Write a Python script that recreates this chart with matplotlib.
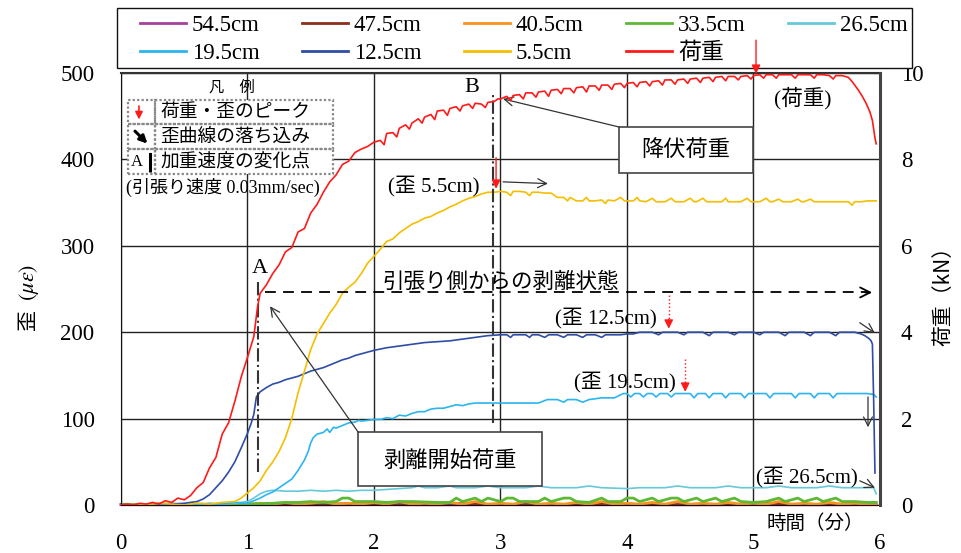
import matplotlib
matplotlib.use("Agg")
import matplotlib.pyplot as plt
from matplotlib.patches import Rectangle, FancyArrowPatch

SERIF = ['Liberation Serif', 'Noto Sans CJK JP', 'DejaVu Sans']
CJK = ['Noto Sans CJK JP', 'DejaVu Sans']
plt.rcParams['font.family'] = SERIF
plt.rcParams['mathtext.fontset'] = 'stix'

# ---------------- data ----------------
# load (kN), right axis
load_t = [0.00, 0.05, 0.10, 0.15, 0.20, 0.25, 0.30, 0.35, 0.40, 0.45, 0.50, 0.55, 0.60, 0.65, 0.70,
          0.75, 0.80, 0.85, 0.90, 0.95, 1.00, 1.05, 1.08, 1.10, 1.15, 1.20, 1.25, 1.30, 1.35, 1.40,
          1.45, 1.50, 1.55, 1.60, 1.65, 1.70, 1.75, 1.80, 1.85, 1.90, 1.95,
          2.00, 2.05, 2.08, 2.10, 2.15, 2.18, 2.20, 2.25, 2.28, 2.30, 2.35, 2.38, 2.40, 2.45, 2.48,
          2.50, 2.55, 2.58, 2.60, 2.65, 2.68, 2.70, 2.75, 2.78, 2.80, 2.85, 2.88, 2.90, 2.95, 2.98,
          3.00, 3.05, 3.08, 3.10, 3.15, 3.18, 3.20, 3.25, 3.28, 3.30, 3.35, 3.38, 3.40, 3.45, 3.48,
          3.50, 3.55, 3.58, 3.60, 3.65, 3.68, 3.70, 3.75, 3.78, 3.80, 3.85, 3.88, 3.90, 3.95, 3.98,
          4.00, 4.05, 4.08, 4.10, 4.15, 4.18, 4.20, 4.25, 4.28, 4.30, 4.35, 4.38, 4.40, 4.45, 4.48,
          4.50, 4.55, 4.58, 4.60, 4.65, 4.68, 4.70, 4.75, 4.78, 4.80, 4.85, 4.88, 4.90, 4.95, 4.98,
          5.00, 5.05, 5.08, 5.10, 5.15, 5.18, 5.20, 5.25, 5.30, 5.33, 5.35, 5.40, 5.45, 5.48, 5.50,
          5.55, 5.60, 5.63, 5.65, 5.70, 5.75, 5.78, 5.80, 5.83, 5.86, 5.89, 5.92, 5.94, 5.96, 5.97]
load_kn = [0.00, 0.02, 0.00, 0.04, 0.02, 0.06, 0.02, 0.10, 0.06, 0.16, 0.12, 0.22, 0.40, 0.52, 0.86,
           1.10, 1.64, 1.90, 2.40, 2.96, 3.42, 3.90, 4.60, 4.90, 5.10, 5.36, 5.56, 5.86, 5.96, 6.32,
           6.40, 6.76, 6.96, 7.24, 7.48, 7.64, 7.88, 7.96, 8.16, 8.24, 8.30,
           8.40, 8.44, 8.34, 8.60, 8.62, 8.52, 8.72, 8.80, 8.70, 8.84, 8.94, 8.84, 8.98, 9.04, 8.92,
           9.12, 9.14, 9.02, 9.18, 9.22, 9.12, 9.24, 9.28, 9.18, 9.30, 9.28, 9.20, 9.32, 9.34, 9.40,
           9.40, 9.46, 9.36, 9.48, 9.50, 9.40, 9.54, 9.54, 9.44, 9.56, 9.58, 9.46, 9.60, 9.62, 9.52,
           9.64, 9.64, 9.54, 9.66, 9.68, 9.56, 9.70, 9.70, 9.60, 9.72, 9.72, 9.62, 9.74, 9.76, 9.66,
           9.76, 9.78, 9.68, 9.78, 9.80, 9.70, 9.80, 9.82, 9.72, 9.84, 9.84, 9.74, 9.84, 9.86, 9.76,
           9.86, 9.88, 9.78, 9.88, 9.90, 9.80, 9.90, 9.92, 9.82, 9.92, 9.92, 9.84, 9.92, 9.94, 9.86,
           9.94, 9.96, 9.88, 9.96, 9.96, 9.88, 9.96, 9.96, 9.96, 9.88, 9.96, 9.96, 9.96, 9.88, 9.96,
           9.96, 9.94, 9.86, 9.94, 9.94, 9.90, 9.80, 9.72, 9.60, 9.46, 9.30, 9.10, 8.90, 8.50, 8.36]

# strain (micro-strain), left axis
s55_t = [0.0, 0.1, 0.2, 0.3, 0.4, 0.5, 0.6, 0.7, 0.8, 0.9, 0.95, 1.00, 1.05, 1.10, 1.15, 1.20, 1.25,
         1.30, 1.35, 1.40, 1.45, 1.50, 1.55, 1.60, 1.65, 1.70, 1.75, 1.80, 1.85, 1.90, 1.95, 2.00,
         2.05, 2.10, 2.15, 2.20, 2.25, 2.30, 2.35, 2.40, 2.45, 2.50, 2.55, 2.60, 2.65, 2.70, 2.75,
         2.80, 2.85, 2.90, 2.95,
         3.00, 3.05, 3.08, 3.10, 3.15, 3.20, 3.23, 3.25, 3.30, 3.35, 3.40, 3.45, 3.50, 3.53, 3.55,
         3.60, 3.65, 3.68, 3.70, 3.75, 3.80, 3.83, 3.85, 3.90, 3.95, 3.98, 4.00, 4.05, 4.08, 4.10,
         4.15, 4.20, 4.23, 4.25, 4.30, 4.35, 4.38, 4.40, 4.45, 4.50, 4.53, 4.55, 4.60, 4.63, 4.65,
         4.70, 4.75, 4.78, 4.80, 4.85, 4.90, 4.95, 4.98, 5.00, 5.05, 5.10, 5.13, 5.15, 5.20, 5.23,
         5.25, 5.30, 5.35, 5.38, 5.40, 5.45, 5.48, 5.50, 5.55, 5.60, 5.65, 5.70, 5.75, 5.78, 5.80,
         5.85, 5.90, 5.95, 5.97]
s55 = [0, 1, 0, 2, 1, 0, 2, 1, 3, 4, 8, 14, 20, 28, 40, 50, 62,
       78, 100, 130, 155, 180, 198, 210, 222, 232, 245, 252, 258, 268, 280, 288,
       296, 305, 308, 315, 320, 325, 328, 332, 334, 338, 341, 345, 348, 352, 355,
       357, 360, 362, 362,
       363, 362, 358, 363, 363, 362, 358, 362, 362, 361, 361, 356, 356, 352, 356,
       352, 352, 356, 352, 352, 353, 349, 353, 352, 356, 352, 352, 352, 356, 352,
       351, 355, 351, 351, 351, 355, 351, 351, 351, 355, 351, 351, 355, 351, 351,
       351, 351, 355, 351, 351, 351, 355, 351, 351, 351, 355, 351, 351, 354, 351,
       351, 351, 354, 351, 351, 354, 351, 351, 351, 351, 351, 351, 351, 347, 351,
       351, 352, 352, 352]

s125_t = [0.0, 0.1, 0.2, 0.3, 0.4, 0.5, 0.55, 0.6, 0.65, 0.7, 0.75, 0.8, 0.85, 0.9, 0.95, 1.0,
          1.03, 1.05, 1.07, 1.10, 1.15, 1.20, 1.25, 1.30, 1.35, 1.40, 1.45, 1.50, 1.55, 1.60, 1.65,
          1.70, 1.75, 1.80, 1.85, 1.90, 1.95, 2.00, 2.10, 2.20, 2.30, 2.40, 2.50, 2.60, 2.70, 2.80,
          2.90, 3.00, 3.05, 3.08, 3.10, 3.20, 3.23, 3.25, 3.30, 3.35, 3.38, 3.45, 3.50, 3.53, 3.60,
          3.65, 3.68, 3.75, 3.80, 3.83, 3.95, 4.00, 4.05, 4.10, 4.20, 4.25, 4.28, 4.40, 4.45, 4.48,
          4.60, 4.65, 4.68, 4.80, 4.85, 4.88, 5.00, 5.05, 5.08, 5.20, 5.25, 5.28, 5.40, 5.45, 5.48,
          5.60, 5.65, 5.68, 5.80, 5.85, 5.88, 5.91, 5.93, 5.94, 5.95, 5.96]
s125 = [0, 1, 0, 2, 1, 2, 3, 4, 7, 12, 20, 28, 38, 50, 66, 83,
        95, 105, 125, 131, 136, 140, 142, 145, 147, 149, 152, 155, 157, 159, 162,
        165, 168, 170, 173, 175, 177, 179, 182, 184, 186, 188, 189, 190, 192, 194,
        196, 197, 197, 194, 197, 197, 194, 197, 197, 194, 197, 197, 194, 197, 197,
        194, 197, 197, 194, 197, 197, 198, 198, 200, 200, 197, 200, 200, 197, 200,
        200, 196, 200, 200, 197, 200, 200, 197, 200, 200, 196, 200, 200, 196, 200,
        200, 196, 200, 200, 198, 196, 193, 190, 186, 120, 37]

s195_t = [0.0, 0.1, 0.2, 0.3, 0.4, 0.5, 0.6, 0.7, 0.8, 0.9, 1.0, 1.05, 1.10, 1.15, 1.20, 1.25,
          1.30, 1.35, 1.40, 1.45, 1.48, 1.50, 1.52, 1.55, 1.60, 1.63, 1.65, 1.68, 1.70, 1.75, 1.80,
          1.85, 1.88, 1.90, 1.95, 2.00, 2.05, 2.10, 2.15, 2.20, 2.25, 2.30, 2.35, 2.40, 2.45, 2.50,
          2.55, 2.60, 2.65, 2.70, 2.75, 2.80, 2.90, 3.00, 3.10, 3.20, 3.30, 3.37, 3.45, 3.50, 3.53,
          3.60, 3.65, 3.70, 3.80, 3.90, 3.97, 4.00, 4.03, 4.06, 4.10, 4.13, 4.16, 4.20, 4.23, 4.26,
          4.32, 4.35, 4.38, 4.45, 4.50, 4.53, 4.56, 4.62, 4.65, 4.68, 4.75, 4.78, 4.81, 4.90, 4.93,
          4.96, 5.10, 5.13, 5.16, 5.30, 5.33, 5.36, 5.45, 5.48, 5.51, 5.60, 5.63, 5.66, 5.80, 5.90,
          5.95, 5.97]
s195 = [0, 1, 0, 1, 2, 1, 0, 2, 1, 3, 2, 5, 8, 12, 15, 20,
        25, 30, 40, 52, 62, 72, 78, 82, 84, 88, 84, 90, 89, 92, 95,
        96, 98, 97, 98, 99, 99, 101, 100, 104, 103, 106, 108, 108, 111, 112,
        112, 114, 116, 115, 117, 118, 118, 118, 118, 118, 118, 122, 122, 119, 122,
        122, 119, 122, 124, 124, 129, 129, 125, 129, 129, 125, 129, 129, 125, 129,
        129, 125, 129, 129, 129, 124, 129, 129, 124, 129, 129, 124, 129, 129, 124,
        129, 129, 124, 129, 129, 124, 129, 129, 124, 129, 129, 124, 129, 129, 129,
        128, 125]

s265_t = [0.0, 0.2, 0.4, 0.6, 0.8, 0.9, 1.0, 1.05, 1.10, 1.15, 1.2, 1.3, 1.4, 1.5, 1.6, 1.7, 1.8,
          1.9, 2.0, 2.1, 2.2, 2.3, 2.35, 2.4, 2.5, 2.6, 2.65, 2.8, 2.9, 3.0, 3.2, 3.3, 3.4, 3.6,
          3.7, 3.8, 4.0, 4.1, 4.3, 4.4, 4.5, 4.7, 4.8, 4.9, 5.1, 5.2, 5.3, 5.5, 5.6, 5.7, 5.9,
          5.95, 5.97]
s265 = [0, 1, 0, 2, 1, 2, 4, 8, 13, 16, 17, 16, 16, 17, 16, 17, 16,
        17, 17, 18, 19, 20, 22, 20, 20, 22, 20, 20, 22, 20, 20, 22, 20, 20,
        22, 20, 19, 20, 20, 22, 20, 20, 22, 20, 20, 22, 20, 20, 22, 20, 20,
        20, 13]

s335_t = [0.0, 0.2, 0.4, 0.6, 0.8, 1.0, 1.2, 1.3, 1.4, 1.5, 1.6, 1.7, 1.75, 1.8, 1.85, 2.0, 2.1,
          2.2, 2.3, 2.5, 2.6, 2.65, 2.7, 2.8, 2.85, 2.9, 3.0, 3.05, 3.1, 3.15, 3.3, 3.35, 3.4, 3.5,
          3.55, 3.6, 3.7, 3.8, 3.85, 3.95, 4.0, 4.05, 4.1, 4.2, 4.25, 4.35, 4.4, 4.45, 4.55, 4.6,
          4.7, 4.75, 4.85, 4.9, 5.0, 5.1, 5.2, 5.25, 5.35, 5.4, 5.5, 5.55, 5.65, 5.7, 5.8, 5.9, 5.97]
s335 = [1, 0, 1, 0, 1, 1, 2, 3, 3, 4, 3, 4, 8, 8, 4, 4, 3,
        4, 4, 3, 3, 8, 4, 8, 4, 8, 4, 8, 8, 4, 4, 8, 4, 8,
        8, 4, 3, 8, 4, 4, 8, 8, 4, 8, 4, 8, 8, 4, 8, 4,
        8, 4, 8, 4, 3, 4, 8, 4, 8, 4, 8, 4, 8, 4, 4, 3, 3]

s405_t = [0.0, 0.3, 0.6, 0.9, 1.0, 1.1, 1.2, 1.3, 1.4, 1.5, 1.6, 1.7, 1.8, 1.9, 2.0, 2.1, 2.2,
          2.3, 2.4, 2.5, 2.6, 2.7, 2.8, 2.9, 3.0, 3.1, 3.2, 3.3, 3.4, 3.5, 3.6, 3.7, 3.8, 3.9,
          4.0, 4.1, 4.2, 4.3, 4.4, 4.5, 4.6, 4.7, 4.8, 4.9, 5.0, 5.1, 5.2, 5.3, 5.4, 5.5, 5.6,
          5.7, 5.8, 5.9, 5.97]
s405 = [0, 1, 0, 1, 1, 2, 1, 3, 1, 2, 4, 1, 2, 1, 3, 1, 4,
        1, 2, 1, 3, 1, 4, 1, 2, 1, 4, 1, 2, 1, 3, 1, 4, 1,
        2, 1, 3, 1, 4, 1, 2, 1, 3, 1, 2, 1, 4, 1, 2, 1, 3,
        1, 2, 1, 1]

s475_t = [0.0, 0.4, 0.8, 1.2, 1.5, 1.8, 2.1, 2.4, 2.7, 3.0, 3.3, 3.6, 3.9, 4.2, 4.5, 4.8, 5.1,
          5.4, 5.7, 5.97]
s475 = [0, 1, 0, 1, 0, 2, 0, 1, 2, 0, 1, 0, 2, 0, 1, 0, 2, 0, 1, 0]

s545_t = [0.0, 0.5, 1.0, 1.5, 2.0, 2.5, 3.0, 3.5, 4.0, 4.5, 5.0, 5.5, 5.97]
s545 = [0.5, 0.3, 0.5, 0.3, 0.5, 0.3, 0.5, 0.3, 0.5, 0.3, 0.5, 0.3, 0.5]

# ---------------- figure ----------------
fig = plt.figure(figsize=(9.62, 5.53), dpi=100)
ax = fig.add_axes([121 / 962, 48 / 553, 759 / 962, 432 / 553])
ax2 = ax.twinx()

ax.set_xlim(0, 6)
ax.set_ylim(0, 500)
ax2.set_ylim(0, 10)
ax.set_xticks(range(0, 7))
ax.set_yticks(range(0, 501, 100))
ax2.set_yticks(range(0, 11, 2))
ax.grid(True, color='#222222', lw=1.0)
ax.set_axisbelow(True)

for a in (ax, ax2):
    for sp in a.spines.values():
        sp.set_visible(False)
ax.spines['left'].set_visible(True)
ax.spines['left'].set_color('#111111')
ax.spines['bottom'].set_visible(True)
ax.spines['bottom'].set_color('#111111')
ax.spines['top'].set_visible(True)
ax.spines['top'].set_color('#333333')
ax.spines['top'].set_linewidth(1.5)
ax2.spines['right'].set_visible(True)
ax2.spines['right'].set_color('#444444')
ax2.spines['right'].set_linewidth(2.2)

ax.tick_params(axis='both', length=0, labelsize=16.5)
ax.tick_params(axis='y', pad=19)
ax.tick_params(axis='x', pad=20)
ax2.tick_params(axis='y', length=0, labelsize=16.5, pad=15)

# strain series
strain_series = [
    ('54.5cm', s545_t, s545, '#A5409F', 2.2),
    ('47.5cm', s475_t, s475, '#8B2E1B', 1.6),
    ('40.5cm', s405_t, s405, '#F7931E', 2.0),
    ('33.5cm', s335_t, s335, '#5DB836', 2.0),
    ('26.5cm', s265_t, s265, '#66C8DA', 1.2),
    ('19.5cm', s195_t, s195, '#2BB5F0', 1.2),
    ('12.5cm', s125_t, s125, '#2E4DA5', 1.2),
    ('5.5cm', s55_t, s55, '#F5BE00', 1.2),
]
handles = {}
for name, t, v, c, lw in strain_series:
    h, = ax.plot(t, v, color=c, lw=lw, clip_on=(name != '54.5cm'))
    handles[name] = h
h_load, = ax2.plot(load_t, load_kn, color='#FF1A1A', lw=1.2)
handles['荷重'] = h_load

# legend above the plot, with its own frame
fig.add_artist(Rectangle((117 / 962, 1 - 68 / 553), 795 / 962, 60 / 553,
                         transform=fig.transFigure, facecolor='white', edgecolor='#111111',
                         lw=1.0, zorder=4))
order = ['54.5cm', '19.5cm', '47.5cm', '12.5cm', '40.5cm', '5.5cm', '33.5cm', '荷重', '26.5cm']
leg = fig.legend([handles[k] for k in order], order, ncol=5, loc='upper left',
                 bbox_to_anchor=(137 / 962, 1 - 66 / 553, 774 / 962, 54 / 553), mode='expand',
                 borderaxespad=0, frameon=False, prop={'family': SERIF, 'size': 16.5},
                 handlelength=2.0, handletextpad=0.25, labelspacing=0.28, borderpad=0.15)
leg.set_zorder(5)
for line in leg.get_lines():
    line.set_linewidth(2.0)

# axis labels
fig.text(28 / 962, 1 - 320 / 553, '歪', rotation=90, ha='center', va='center',
         fontsize=15, family=CJK)
fig.text(29 / 962, 1 - 282 / 553, '$(\\mu\\varepsilon)$', rotation=90, ha='center', va='center',
         fontsize=16)
fig.text(943 / 962, 1 - 291 / 553, '荷重（kN）', rotation=90, ha='center', va='center',
         fontsize=15, family=CJK)
ax.text(5.49, -21, '時間（分）', ha='center', va='center', fontsize=14, family=CJK)

# key table in the upper left
tbl_x0, tbl_x1, tbl_xm = 0.055, 1.676, 0.269
rows = [(441, 469), (412, 441), (383, 412)]
ax.add_patch(Rectangle((tbl_x0, 383), tbl_x1 - tbl_x0, 86, facecolor='white', edgecolor='none',
                       zorder=3))
for y0, y1 in rows:
    ax.add_patch(Rectangle((tbl_x0, y0), tbl_xm - tbl_x0, y1 - y0, facecolor='none',
                           edgecolor='#888888', lw=1.6, ls=(0, (1, 1)), zorder=4))
    ax.add_patch(Rectangle((tbl_xm, y0), tbl_x1 - tbl_xm, y1 - y0, facecolor='none',
                           edgecolor='#888888', lw=1.6, ls=(0, (1, 1)), zorder=4))
ax.text(0.877, 484, '凡　例', ha='center', va='center', fontsize=11, family=CJK, zorder=5)
ax.annotate('', xy=(0.142, 443), xytext=(0.142, 465),
            arrowprops=dict(arrowstyle='-|>', color='#FF1A1A', lw=1.2, mutation_scale=11), zorder=5)
ax.annotate('', xy=(0.225, 416), xytext=(0.095, 435),
            arrowprops=dict(arrowstyle='-|>', color='black', lw=2.2, mutation_scale=11), zorder=5)
ax.text(0.128, 397, 'A', ha='center', va='center', fontsize=12, family=SERIF, zorder=5)
ax.plot([0.232, 0.232], [385, 410], color='black', lw=2.2, ls='-.', zorder=5)
for y, s in [(455, '荷重・歪のピーク'), (426, '歪曲線の落ち込み'), (397, '加重速度の変化点')]:
    ax.text(0.31, y, s, ha='left', va='center', fontsize=13.5, family=CJK, zorder=5)
ax.text(0.04, 367, '(引張り速度 0.03mm/sec)', ha='left', va='center', fontsize=13, family=SERIF,
        zorder=5)

# loading-rate change points
ax.plot([1.083, 1.083], [38, 262], color='#333333', lw=1.5, ls='-.')
ax.text(1.10, 274, 'A', ha='center', va='center', fontsize=16, family=SERIF)
ax.plot([2.94, 2.94], [95, 478], color='#333333', lw=1.5, ls='-.')
ax.text(2.77, 483, 'B', ha='center', va='center', fontsize=16, family=SERIF)

# debonding state arrow
ax.plot([1.14, 5.90], [246, 246], color='black', lw=1.3, ls=(0, (6, 4)))
ax.annotate('', xy=(5.96, 246), xytext=(5.86, 246),
            arrowprops=dict(arrowstyle='->', color='black', lw=1.3, mutation_scale=18))
ax.text(3.0, 258, '引張り側からの剥離状態', ha='center', va='center', fontsize=15.5, family=CJK)

# callout boxes
ax.add_patch(Rectangle((3.937, 384), 1.059, 53.5, facecolor='white', edgecolor='#444444', lw=1.2,
                       zorder=3))
ax.text(4.466, 410, '降伏荷重', ha='center', va='center', fontsize=16, family=CJK, zorder=4)
ax.annotate('', xy=(3.02, 470), xytext=(3.937, 437.5),
            arrowprops=dict(arrowstyle='->', color='#333333', lw=0.9, mutation_scale=16,
                            shrinkA=0, shrinkB=0), zorder=4)
ax.add_patch(Rectangle((1.874, 22), 1.454, 62.5, facecolor='white', edgecolor='#444444', lw=1.2,
                       zorder=3))
ax.text(2.60, 52, '剥離開始荷重', ha='center', va='center', fontsize=16, family=CJK, zorder=4)
ax.annotate('', xy=(1.178, 230), xytext=(1.874, 84.5),
            arrowprops=dict(arrowstyle='->', color='#333333', lw=0.9, mutation_scale=16,
                            shrinkA=0, shrinkB=0), zorder=4)

# peak markers and labels
ax.text(5.39, 471, '(荷重)', ha='center', va='center', fontsize=15.5, family=SERIF)
fig.add_artist(FancyArrowPatch((5.02, 538), (5.02, 499), transform=ax.transData,
                               arrowstyle='-|>', color='#FF1A1A', lw=1.0, mutation_scale=13,
                               shrinkA=0, shrinkB=0, zorder=10))

ax.text(2.47, 369, '(歪 5.5cm)', ha='center', va='center', fontsize=15, family=SERIF)
ax.annotate('', xy=(2.965, 366), xytext=(2.965, 402),
            arrowprops=dict(arrowstyle='-|>', color='#FF1A1A', lw=1.0, mutation_scale=13,
                            shrinkA=0, shrinkB=0))
ax.annotate('', xy=(3.375, 372), xytext=(3.02, 374),
            arrowprops=dict(arrowstyle='->', color='#333333', lw=0.9, mutation_scale=16,
                            shrinkA=0, shrinkB=0))

ax.text(3.83, 216, '(歪 12.5cm)', ha='center', va='center', fontsize=15, family=SERIF)
ax.plot([4.33, 4.33], [243, 214], color='#FF1A1A', lw=1.0, ls=':')
ax.annotate('', xy=(4.33, 204), xytext=(4.33, 215),
            arrowprops=dict(arrowstyle='-|>', color='#FF1A1A', lw=1.0, mutation_scale=13,
                            shrinkA=0, shrinkB=0))

ax.text(3.98, 142, '(歪 19.5cm)', ha='center', va='center', fontsize=15, family=SERIF)
ax.plot([4.46, 4.46], [169, 141], color='#FF1A1A', lw=1.0, ls=':')
ax.annotate('', xy=(4.46, 131), xytext=(4.46, 142),
            arrowprops=dict(arrowstyle='-|>', color='#FF1A1A', lw=1.0, mutation_scale=13,
                            shrinkA=0, shrinkB=0))

ax.text(5.42, 32, '(歪 26.5cm)', ha='center', va='center', fontsize=15, family=SERIF)

# drop markers at the end of the test
for start, end in [((5.84, 211), (5.96, 199)), ((5.905, 125), (5.905, 90)),
                   ((5.84, 28), (5.96, 20))]:
    ax.annotate('', xy=end, xytext=start,
                arrowprops=dict(arrowstyle='->', color='#333333', lw=0.9, mutation_scale=16,
                                shrinkA=0, shrinkB=0))

fig.savefig('out.png', dpi=100)
